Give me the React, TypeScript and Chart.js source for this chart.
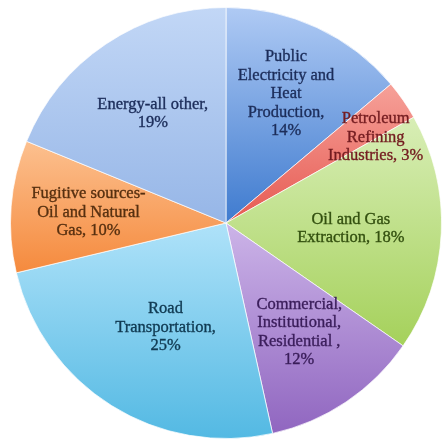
import React, { useEffect, useRef } from "react";
import { Chart, registerables } from "chart.js";

Chart.register(...registerables);

const categories: string[][] = [
  ["Public", "Electricity and", "Heat", "Production,", "14%"],
  ["Petroleum", "Refining", "Industries, 3%"],
  ["Oil and Gas", "Extraction, 18%"],
  ["Commercial,", "Institutional,", "Residential ,", "12%"],
  ["Road", "Transportation,", "25%"],
  ["Fugitive sources-", "Oil and Natural", "Gas, 10%"],
  ["Energy-all other,", "19%"],
];
const values: number[] = [14, 3, 18, 12, 25, 10, 19];

const lightColors = ["#afcaf4", "#f6a199", "#d8eeb6", "#ccb4e8", "#afe2f9", "#fcc08f", "#c2d7f6"];
const darkColors = ["#3f7bcf", "#e65a52", "#a5d15b", "#9066c0", "#53b9e3", "#f58a3d", "#96b6e7"];
const flatColors = ["#6f9ee0", "#f08a85", "#c2e28a", "#b08ed8", "#80cdef", "#f9a560", "#aec8f0"];
const textColors = ["#1c2d5a", "#741c20", "#33500f", "#3a1d5a", "#103a52", "#573010", "#1c2d5a"];
const labelRadius = [0.66, 0.8, 0.58, 0.61, 0.56, 0.64, 0.61];
const labelAngleShift = [0, 5, 0, 0, -2, 0, 0];

const gradientPlugin = {
  id: "sliceGradient",
  beforeDatasetsDraw(chart: any) {
    const ctx = chart.ctx;
    const meta = chart.getDatasetMeta(0);
    meta.data.forEach((arc: any, i: number) => {
      const { x, y, startAngle, endAngle, outerRadius } = arc.getProps(
        ["x", "y", "startAngle", "endAngle", "outerRadius"],
        true
      );
      const ys = [y, y + outerRadius * Math.sin(startAngle), y + outerRadius * Math.sin(endAngle)];
      const inRange = (a: number) => {
        for (let k = -2; k <= 2; k++) {
          const t = a + k * 2 * Math.PI;
          if (t >= startAngle && t <= endAngle) return true;
        }
        return false;
      };
      if (inRange(Math.PI / 2)) ys.push(y + outerRadius);
      if (inRange(-Math.PI / 2)) ys.push(y - outerRadius);
      const y0 = Math.min(...ys);
      const y1 = Math.max(...ys);
      const g = ctx.createLinearGradient(0, y0, 0, y1);
      g.addColorStop(0, lightColors[i]);
      g.addColorStop(1, darkColors[i]);
      arc.options.backgroundColor = g;
    });
  },
};

const labelPlugin = {
  id: "sliceLabels",
  afterDatasetsDraw(chart: any) {
    const ctx = chart.ctx;
    const meta = chart.getDatasetMeta(0);
    ctx.save();
    ctx.font = "16.5px 'Liberation Serif', 'Times New Roman', serif";
    ctx.textAlign = "center";
    ctx.textBaseline = "middle";
    ctx.lineWidth = 0.35;
    const lineH = 18.5;
    meta.data.forEach((arc: any, i: number) => {
      const { x, y, startAngle, endAngle, outerRadius } = arc.getProps(
        ["x", "y", "startAngle", "endAngle", "outerRadius"],
        true
      );
      const mid = (startAngle + endAngle) / 2 + (labelAngleShift[i] * Math.PI) / 180;
      const r = outerRadius * labelRadius[i];
      const cx = x + r * Math.cos(mid);
      const cy = y + r * Math.sin(mid);
      const lines = categories[i];
      ctx.fillStyle = textColors[i];
      ctx.strokeStyle = textColors[i];
      lines.forEach((ln, j) => {
        const ty = cy + (j - (lines.length - 1) / 2) * lineH;
        ctx.fillText(ln, cx, ty);
        ctx.strokeText(ln, cx, ty);
      });
    });
    ctx.restore();
  },
};

export default function App() {
  const ref = useRef<HTMLCanvasElement | null>(null);
  useEffect(() => {
    document.body.style.margin = "0";
    const chart = new Chart(ref.current as HTMLCanvasElement, {
      type: "pie",
      data: {
        labels: categories.map((c) => c.join(" ")),
        datasets: [
          {
            data: values,
            backgroundColor: flatColors,
            borderColor: "rgba(255,255,255,0.7)",
            borderWidth: 1,
          },
        ],
      },
      options: {
        animation: false,
        responsive: false,
        maintainAspectRatio: false,
        layout: { padding: { left: 10, right: 0, top: 7, bottom: 7 } },
        plugins: {
          legend: { display: false },
          tooltip: { enabled: false },
        },
      },
      plugins: [gradientPlugin, labelPlugin],
    });
    return () => chart.destroy();
  }, []);
  return (
    <div style={{ position: "fixed", left: 0, top: 0, width: 442, height: 446, background: "#fff" }}>
      <canvas ref={ref} width={442} height={446} style={{ width: 442, height: 446 }} />
    </div>
  );
}
